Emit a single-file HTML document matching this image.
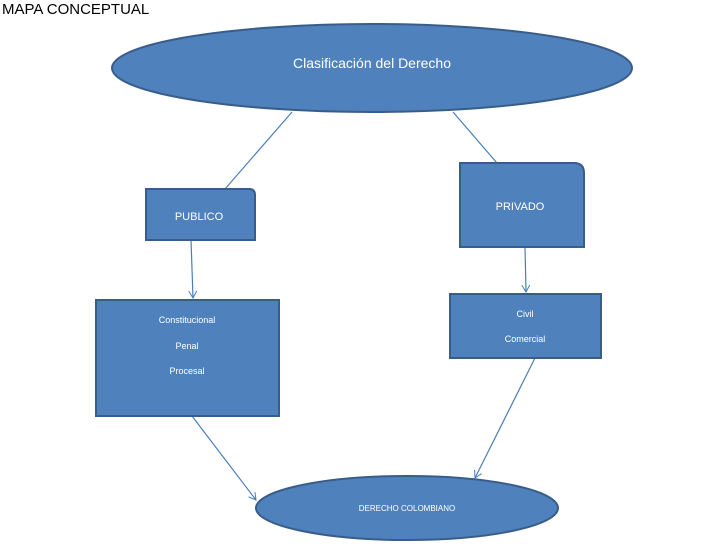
<!DOCTYPE html>
<html><head><meta charset="utf-8"><style>
body{margin:0;background:#fff}
svg{display:block}
text{font-family:"Liberation Sans",sans-serif;fill:#fff}
</style></head><body>
<svg width="728" height="546" xmlns="http://www.w3.org/2000/svg">
<defs><marker id="a" markerWidth="10" markerHeight="10" refX="8" refY="5" orient="auto" markerUnits="userSpaceOnUse"><path d="M1,1 L8,5 L1,9" fill="none" stroke="#4A7EBB" stroke-width="1"/></marker></defs>
<text x="2" y="14" font-size="15" style="fill:#000">MAPA CONCEPTUAL</text>
<ellipse cx="372" cy="68" rx="260" ry="44" fill="#4F81BD" stroke="#385D8A" stroke-width="2"/>
<text x="372" y="68" font-size="14" text-anchor="middle">Clasificación del Derecho</text>
<g stroke="#4A7EBB" stroke-width="1.2" fill="none">
<line x1="292" y1="112" x2="225" y2="189"/>
<line x1="453" y1="112" x2="497" y2="163"/>
<line x1="191" y1="240" x2="193" y2="298" marker-end="url(#a)"/>
<line x1="525" y1="247" x2="526" y2="292" marker-end="url(#a)"/>
<line x1="192" y1="416" x2="256" y2="500" marker-end="url(#a)"/>
<line x1="535" y1="358" x2="475" y2="478" marker-end="url(#a)"/>
</g>
<path d="M146,189 H249 Q255,189 255,195 V240 H146 Z" fill="#4F81BD" stroke="#385D8A" stroke-width="2"/>
<text x="199" y="220" font-size="11" text-anchor="middle">PUBLICO</text>
<path d="M460,163 H574 Q584,163 584,173 V247 H460 Z" fill="#4F81BD" stroke="#385D8A" stroke-width="2"/>
<text x="520" y="210" font-size="11" text-anchor="middle">PRIVADO</text>
<rect x="96" y="300" width="183" height="116" fill="#4F81BD" stroke="#385D8A" stroke-width="2"/>
<text x="187" y="323" font-size="9" text-anchor="middle">Constitucional</text>
<text x="187" y="349" font-size="9" text-anchor="middle">Penal</text>
<text x="187" y="374" font-size="9" text-anchor="middle">Procesal</text>
<rect x="450" y="294" width="151" height="64" fill="#4F81BD" stroke="#385D8A" stroke-width="2"/>
<text x="525" y="317" font-size="9" text-anchor="middle">Civil</text>
<text x="525" y="342" font-size="9" text-anchor="middle">Comercial</text>
<ellipse cx="407" cy="508" rx="151" ry="32" fill="#4F81BD" stroke="#385D8A" stroke-width="2"/>
<text x="407" y="511" font-size="8" text-anchor="middle">DERECHO COLOMBIANO</text>
</svg>
</body></html>
